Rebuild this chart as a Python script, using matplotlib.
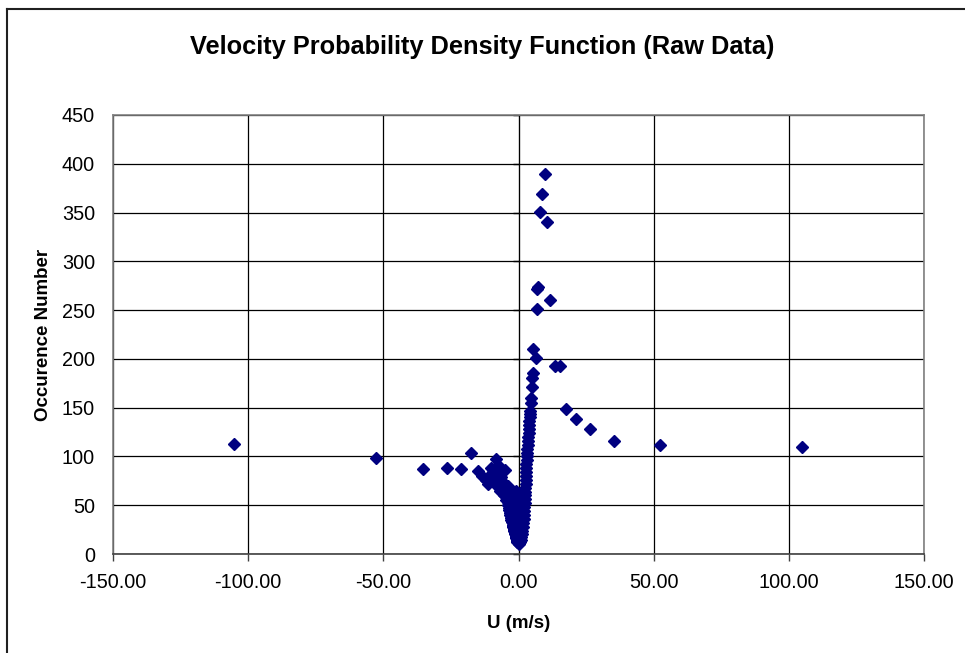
import numpy as np
import matplotlib.pyplot as plt
from matplotlib.lines import Line2D

# velocidades (m/s) y numero de ocurrencias
u_tail = [-105.2, -52.7, -35.3, -26.3, -21.2, -17.5, -15.0, -13.5, -12.2, -11.3,
          -10.2, -9.4, -8.3, -7.6, -6.8, -5.0,
          104.9, 52.4, 35.3, 26.5, 21.3, 17.6, 15.4, 13.5, 11.7, 10.5, 9.8, 8.7, 7.95,
          7.2, 7.0, 6.8, 6.5, 5.4, 5.4, 5.0, 5.0, 4.6, 4.5]
n_tail = [113, 98, 87, 88, 87, 104, 85, 80, 76, 72,
          88, 86, 97, 91, 88, 86,
          110, 112, 116, 128, 138, 149, 193, 193, 260, 340, 390, 369, 351,
          274, 272, 251, 201, 210, 186, 180, 171, 160, 155]

u_left = [-10.5, -9.8, -9.0, -8.1, -7.5, -7.0, -6.6, -6.2, -5.8, -5.5, -5.25, -5.0,
          -4.8, -4.6, -4.4, -4.2, -4.0, -3.9, -3.75, -3.6, -3.5, -3.4, -3.3, -3.2,
          -3.1, -3.0, -2.9, -2.8, -2.7, -2.6, -2.5, -2.4, -2.3, -2.2, -2.1, -2.0,
          -1.9, -1.8, -1.7, -1.6, -1.5, -1.4, -1.3, -1.2, -1.1, -1.0, -0.9, -0.8,
          -0.7, -0.6, -0.5, -0.4]
n_left = [80, 78, 76, 82, 77, 74, 79, 70, 68, 72, 64, 61,
          66, 58, 56, 60, 53, 50, 55, 47, 51, 45, 48, 42,
          44, 40, 43, 37, 39, 35, 37, 33, 34, 30, 32, 28,
          29, 26, 27, 24, 25, 22, 23, 20, 21, 18, 17, 16,
          15, 14, 13, 12]

u_mid = [-11.0, -9.0, -7.0, -10.0, -8.0, -6.0, -8.0, -6.0, -4.0,
         -7.0, -5.0, -3.0, -1.0, -5.5, -3.5, -1.5, 0.5, 2.0,
         -4.5, -2.5, -0.5, 1.2, -3.5, -1.5, 0.2, 1.5, -2.8, -1.0, 0.5,
         -2.2, -0.7, 0.8, -1.8, -0.3, 1.0, -1.3, 0.0, 1.0,
         -1.0, 0.2, -0.6, 0.5, -0.3, 0.4]
n_mid = [80, 80, 80, 75, 75, 75, 70, 70, 70,
         65, 65, 65, 65, 60, 60, 60, 60, 60,
         55, 55, 55, 55, 50, 50, 50, 50, 45, 45, 45,
         40, 40, 40, 35, 35, 35, 30, 30, 30,
         25, 25, 20, 20, 15, 15]

u_right = [4.3, 4.2, 4.1, 4.0, 3.9, 3.8, 3.7, 3.6, 3.5, 3.4, 3.3, 3.2, 3.1, 3.0,
           2.9, 2.8, 2.75, 2.7, 2.65, 2.6, 2.55, 2.5, 2.45, 2.4, 2.3, 2.2, 2.1,
           2.0, 1.9, 1.8, 1.6, 1.4, 1.2, 1.0, 0.8, 0.6, 0.3, 0.0, 0.5, 1.0, 1.5, -0.2]
n_right = [147, 143, 140, 136, 132, 128, 124, 120, 116, 112, 108, 104, 100, 96,
           92, 88, 84, 80, 76, 72, 68, 64, 60, 56, 52, 48, 44,
           40, 36, 32, 28, 24, 20, 17, 14, 12, 10, 11, 30, 45, 60, 16]

u = np.array(u_tail + u_left + u_mid + u_right)
n = np.array(n_tail + n_left + n_mid + n_right)

x_ticks = [-150, -100, -50, 0, 50, 100, 150]
y_ticks = list(range(0, 451, 50))

plt.rcParams['font.family'] = ['Liberation Sans', 'DejaVu Sans']

fig = plt.figure(figsize=(9.65, 6.53), dpi=100)
ax = fig.add_axes([113 / 965, 1 - 554 / 653, (924 - 113) / 965, (554 - 115) / 653])

ax.plot(u, n, ls='none', marker='D', ms=6.2, color='#000080', mec='#000080', zorder=5)

ax.set_xlim(-150, 150)
ax.set_ylim(0, 450)
ax.set_xticks(x_ticks)
ax.set_xticklabels([f'{v:.2f}' for v in x_ticks])
ax.set_yticks(y_ticks)
ax.grid(True, color='black', linewidth=0.9)
ax.set_axisbelow(True)

for s in ax.spines.values():
    s.set_color('#808080')
    s.set_linewidth(1.2)
ax.spines['bottom'].set_color('#404040')

ax.tick_params(axis='x', length=5, width=1, color='#404040', labelsize=14.3, pad=9)
ax.tick_params(axis='y', length=0, labelsize=14.3, pad=13)

# eje vertical en x = 0 con marcas hacia la izquierda
sec = ax.secondary_yaxis(0.5)
sec.set_yticks(y_ticks)
sec.yaxis.set_ticks_position('left')
sec.tick_params(length=4, width=1, labelleft=False, labelright=False, color='black')
sec.spines['left'].set_color('black')
sec.spines['left'].set_linewidth(1.0)

ax.set_xlabel('U (m/s)', fontsize=13.5, fontweight='bold', labelpad=16)
ax.set_ylabel('Occurence Number', fontsize=13.5, fontweight='bold', labelpad=7)
fig.suptitle('Velocity Probability Density Function (Raw Data)', fontsize=18.3,
             fontweight='bold', y=1 - 47 / 653, va='center')

# marco exterior del grafico
fig.add_artist(Line2D([7 / 965, 7 / 965], [0, 1 - 9 / 653], color='#202020', lw=1.5))
fig.add_artist(Line2D([7 / 965, 1], [1 - 9 / 653, 1 - 9 / 653], color='#202020', lw=1.5))

fig.savefig('out.png', dpi=100)
